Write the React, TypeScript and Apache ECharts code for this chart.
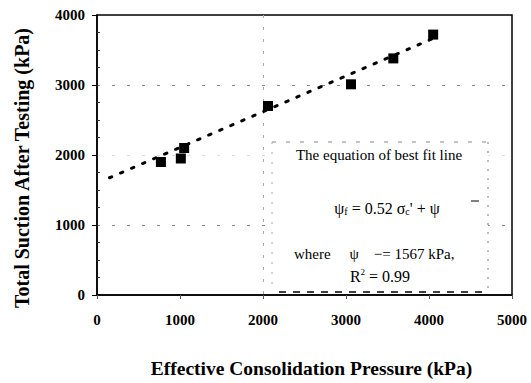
import React, { useEffect, useRef } from "react";
import * as echarts from "echarts";

const pressure = [770, 1010, 1050, 2060, 3060, 3570, 4050];
const suction = [1900, 1950, 2100, 2700, 3010, 3380, 3720];
const fitX = [150, 4050];
const fitY = [1675, 3665];
const xTicks = [0, 1000, 2000, 3000, 4000, 5000];
const yTicks = [0, 1000, 2000, 3000, 4000];
const xTitle = "Effective Consolidation Pressure (kPa)";
const yTitle = "Total Suction After Testing (kPa)";
const boxLines = [
  "The equation of best fit line",
  "{t|ψ}{s|f}{t| = 0.52 σ}{s|c}{t|' + ψ}",
  "where     ψ    −= 1567 kPa,",
  "R{sup|2} = 0.99",
];

const FONT = "'Liberation Serif', 'Times New Roman', serif";

export default function App() {
  const ref = useRef<HTMLDivElement>(null);
  useEffect(() => {
    if (!ref.current) return;
    const chart = echarts.init(ref.current, null, { renderer: "svg" });
    const L = 97, R = 512, T = 15, B = 305;
    const bx0 = 272, bx1 = 488, by0 = 142, by1 = 292;
    chart.setOption({
      animation: false,
      backgroundColor: "#ffffff",
      grid: {
        left: L, right: 531 - R, top: T, bottom: 383 - B,
        show: true, borderColor: "#000", borderWidth: 1.5, backgroundColor: "transparent",
      },
      xAxis: {
        type: "value", min: 0, max: 5000, interval: 1000,
        name: xTitle, nameLocation: "middle", nameGap: 63,
        nameTextStyle: { fontFamily: FONT, fontWeight: "bold", fontSize: 19.5, color: "#000", padding: [0, 0, 0, 14] },
        axisLine: { lineStyle: { color: "#000", width: 1.5 } },
        axisTick: { show: true, length: 4, lineStyle: { color: "#555" } },
        axisLabel: {
          margin: 17, fontFamily: FONT, fontWeight: "bold", fontSize: 15, color: "#000",
          formatter: (v: number) => (xTicks.includes(v) ? String(v) : ""),
        },
        splitLine: {
          show: true,
          lineStyle: { type: [3, 9], width: 1, color: ["transparent", "transparent", "#aaa", "transparent", "transparent", "transparent"] },
        },
      },
      yAxis: [
        {
          type: "value", min: 0, max: 4000, interval: 1000,
          axisLine: { lineStyle: { color: "#000", width: 1.5 } },
          axisTick: { show: true, length: 5, lineStyle: { color: "#000" } },
          axisLabel: {
            margin: 12, fontFamily: FONT, fontWeight: "bold", fontSize: 15, color: "#000",
            formatter: (v: number) => (yTicks.includes(v) ? String(v) : ""),
          },
          splitLine: {
            show: true,
            lineStyle: { type: [3, 12], width: 1, color: ["transparent", "#888", "#ddd", "#888", "transparent"] },
          },
        },
        {
          type: "value", min: 0, max: 4000, interval: 1000, position: "left",
          axisLine: { show: false },
          axisTick: { show: false, inside: true },
          minorTick: { show: true, splitNumber: 4, length: 3, lineStyle: { color: "#333" } },
          axisLabel: { show: false },
          splitLine: { show: false },
        },
      ],
      series: [
        {
          type: "line",
          data: fitX.map((x, i) => [x, fitY[i]]),
          showSymbol: false,
          symbol: "none",
          lineStyle: { color: "#000", width: 3, type: [2.5, 9.5], cap: "round" },
          z: 3,
        },
        {
          type: "scatter",
          data: pressure.map((x, i) => [x, suction[i]]),
          symbol: "rect",
          symbolSize: 10,
          itemStyle: { color: "#000", opacity: 1 },
          z: 4,
        },
      ],
      graphic: [
        {
          type: "text", z: 102, x: 22, y: 168, rotation: Math.PI / 2,
          style: { text: yTitle, font: `bold 20px ${FONT}`, fill: "#000", align: "center", verticalAlign: "middle" },
        },
        { type: "rect", z: 100, shape: { x: bx0, y: by0, width: bx1 - bx0, height: by1 - by0 }, style: { fill: "#fff", stroke: "none" } },
        { type: "line", z: 101, shape: { x1: bx0, y1: by0, x2: bx1, y2: by0 }, style: { stroke: "#888", lineWidth: 1, lineDash: [4, 10] } },
        { type: "line", z: 101, shape: { x1: bx0, y1: by0, x2: bx0, y2: by1 }, style: { stroke: "#aaa", lineWidth: 1, lineDash: [2, 8] } },
        { type: "line", z: 101, shape: { x1: bx1, y1: by0, x2: bx1, y2: by1 }, style: { stroke: "#777", lineWidth: 1, lineDash: [2, 7] } },
        { type: "line", z: 101, shape: { x1: bx0 + 7, y1: by1, x2: bx1 - 4, y2: by1 }, style: { stroke: "#000", lineWidth: 1.3, lineDash: [7, 7] } },
        { type: "line", z: 101, shape: { x1: 471, y1: 201, x2: 479, y2: 201 }, style: { stroke: "#000", lineWidth: 1 } },
        {
          type: "text", z: 102, x: 379, y: 155,
          style: { text: boxLines[0], font: `15px ${FONT}`, fill: "#000", align: "center", verticalAlign: "middle" },
        },
        {
          type: "text", z: 102, x: 387, y: 208,
          style: {
            text: boxLines[1], font: `16px ${FONT}`, fill: "#000", align: "center", verticalAlign: "middle",
            rich: {
              t: { font: `16px ${FONT}`, fill: "#000" },
              s: { font: `10px ${FONT}`, fill: "#000", padding: [7, 0, 0, 0] },
            },
          },
        },
        {
          type: "text", z: 102, x: 294, y: 254,
          style: { text: boxLines[2], font: `15px ${FONT}`, fill: "#000", align: "left", verticalAlign: "middle" },
        },
        {
          type: "text", z: 102, x: 380, y: 276,
          style: {
            text: boxLines[3], fill: "#000", align: "center", verticalAlign: "middle",
            font: `16px ${FONT}`,
            rich: { sup: { font: `9px ${FONT}`, fill: "#000", padding: [0, 0, 8, 0] } },
          },
        },
      ],
    });
    return () => chart.dispose();
  }, []);
  return <div ref={ref} style={{ width: 531, height: 383, position: "absolute", left: 0, top: 0 }} />;
}
